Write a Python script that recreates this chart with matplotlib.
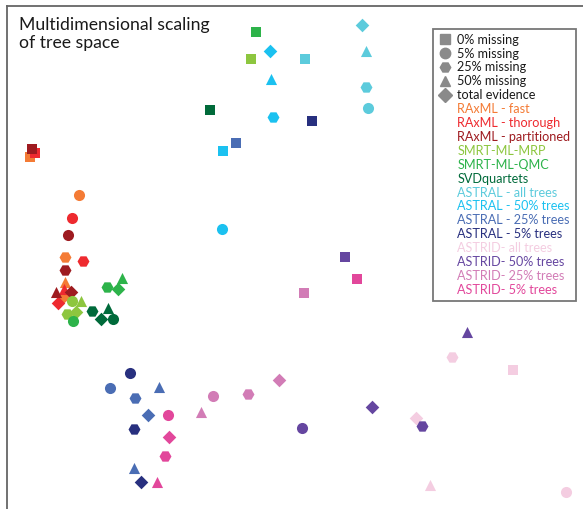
import numpy as np
import matplotlib.pyplot as plt
from matplotlib.lines import Line2D

plt.rcParams['font.family'] = ['Lato', 'DejaVu Sans']

# Methods (legend order) and their colours
methods = [
    'RAxML - fast', 'RAxML - thorough', 'RAxML - partitioned',
    'SMRT-ML-MRP', 'SMRT-ML-QMC', 'SVDquartets',
    'ASTRAL - all trees', 'ASTRAL - 50% trees', 'ASTRAL - 25% trees', 'ASTRAL - 5% trees',
    'ASTRID- all trees', 'ASTRID- 50% trees', 'ASTRID- 25% trees', 'ASTRID- 5% trees',
]
method_colors = [
    '#F47B35', '#EE2A2F', '#9E1B20',
    '#8DC63F', '#2DB34A', '#006A3A',
    '#5CCBDC', '#1BC1F0', '#4A6DB4', '#28307F',
    '#F4CDE1', '#6546A0', '#D27CB6', '#E2479B',
]

# Data categories (marker shape)
categories = ['0% missing', '5% missing', '25% missing', '50% missing', 'total evidence']
cat_markers = {'0% missing': 's', '5% missing': 'o', '25% missing': 'H',
               '50% missing': '^', 'total evidence': 'D'}
cat_sizes = {'s': 42, 'o': 64, 'H': 74, '^': 64, 'D': 48}

# MDS coordinates, one row per tree: method index, category index, MDS1, MDS2
pt_method = [0, 0, 0, 0, 0,
             1, 1, 1, 1, 1,
             2, 2, 2, 2, 2,
             3, 3, 3, 3, 3,
             4, 4, 4, 4, 4,
             5, 5, 5, 5, 5,
             6, 6, 6, 6, 6,
             7, 7, 7, 7, 7,
             8, 8, 8, 8, 8, 8,
             9, 9, 9, 9,
             10, 10, 10, 10, 10,
             11, 11, 11, 11, 11,
             12, 12, 12, 12, 12,
             13, 13, 13, 13, 13]
pt_cat = [0, 1, 2, 3, 4,
          0, 1, 2, 3, 4,
          0, 1, 2, 3, 4,
          0, 1, 2, 3, 4,
          0, 1, 2, 3, 4,
          0, 1, 2, 3, 4,
          0, 1, 2, 3, 4,
          0, 1, 2, 3, 4,
          0, 1, 2, 3, 4, 3,
          0, 1, 2, 4,
          0, 1, 2, 3, 4,
          0, 1, 2, 3, 4,
          0, 1, 2, 3, 4,
          0, 1, 2, 3, 4]
mds1 = [-2.60, -2.11, -2.25, -2.25, -2.27,
        -2.55, -2.18, -2.07, -2.26, -2.32,
        -2.58, -2.22, -2.25, -2.34, -2.19,
        -0.39, -2.18, -2.23, -2.09, -2.14,
        -0.34, -2.17, -1.83, -1.68, -1.72,
        -0.80, -1.77, -1.98, -1.82, -1.89,
        0.15, 0.78, 0.76, 0.76, 0.72,
        -0.67, -0.68, -0.17, -0.19, -0.20,
        -0.54, -1.80, -1.55, -1.31, -1.42, -1.56,
        0.22, -1.60, -1.56, -1.49,
        2.23, 2.76, 1.62, 1.40, 1.26,
        0.55, 0.12, 1.32, 1.77, 0.82,
        0.14, -0.77, -0.42, -0.89, -0.11,
        0.67, -1.22, -1.25, -1.33, -1.21]
mds2 = [0.93, 0.55, -0.07, -0.32, -0.47,
        0.97, 0.32, -0.11, -0.39, -0.53,
        1.01, 0.15, -0.20, -0.42, -0.42,
        1.91, -0.51, -0.64, -0.51, -0.62,
        2.18, -0.71, -0.37, -0.28, -0.39,
        1.40, -0.69, -0.61, -0.58, -0.69,
        1.91, 1.42, 1.63, 1.99, 2.25,
        0.99, 0.21, 1.33, 1.71, 1.99,
        1.07, -1.38, -1.48, -1.37, -1.65, -2.18,
        1.29, -1.23, -1.79, -2.32,
        -1.20, -2.42, -1.07, -2.35, -1.68,
        -0.07, -1.78, -1.76, -0.82, -1.57,
        -0.43, -1.46, -1.44, -1.62, -1.30,
        -0.29, -1.65, -2.06, -2.32, -1.87]

pt_method = np.array(pt_method)
pt_cat = np.array(pt_cat)
mds1 = np.array(mds1)
mds2 = np.array(mds2)

fig = plt.figure(figsize=(5.83, 5.09), dpi=100)
ax = fig.add_axes([7 / 583, 0, 1 - 7 / 583, 1 - 6 / 509])

for m, color in enumerate(method_colors):
    for c, cat in enumerate(categories):
        sel = (pt_method == m) & (pt_cat == c)
        if not sel.any():
            continue
        mk = cat_markers[cat]
        ax.scatter(mds1[sel], mds2[sel], marker=mk, s=cat_sizes[mk],
                   color=color, linewidths=0, zorder=3)

ax.set_xlim(-2.83, 2.93)
ax.set_ylim(-2.59, 2.44)
ax.set_xticks([])
ax.set_yticks([])
for side in ['right', 'bottom']:
    ax.spines[side].set_visible(False)
for side in ['left', 'top']:
    ax.spines[side].set_color('#666666')
    ax.spines[side].set_linewidth(1.3)

ax.text(0.021, 0.978, 'Multidimensional scaling\nof tree space',
        transform=ax.transAxes, ha='left', va='top', fontsize=12.7,
        color='#1a1a1a', linespacing=1.12)

# Legend: grey shape handles, then colour-only method labels
handles = [Line2D([], [], linestyle='none', marker=cat_markers[c], color='#8a8a8a',
                  markersize=7.5 if cat_markers[c] != 's' else 6.5)
           for c in categories]
handles += [Line2D([], [], linestyle='none') for _ in methods]
labels = categories + methods
leg = ax.legend(handles, labels, loc='upper right', bbox_to_anchor=(0.987, 0.955),
                fontsize=9.1, frameon=True, fancybox=False, edgecolor='#555555',
                labelspacing=0.15, handlelength=1.0, handletextpad=0.5,
                borderpad=0.4, borderaxespad=0)
leg.get_frame().set_linewidth(1.3)
for txt, col in zip(leg.get_texts()[len(categories):], method_colors):
    txt.set_color(col)
for txt in leg.get_texts()[:len(categories)]:
    txt.set_color('#1a1a1a')

plt.savefig('out.png', dpi=100)
plt.close()
